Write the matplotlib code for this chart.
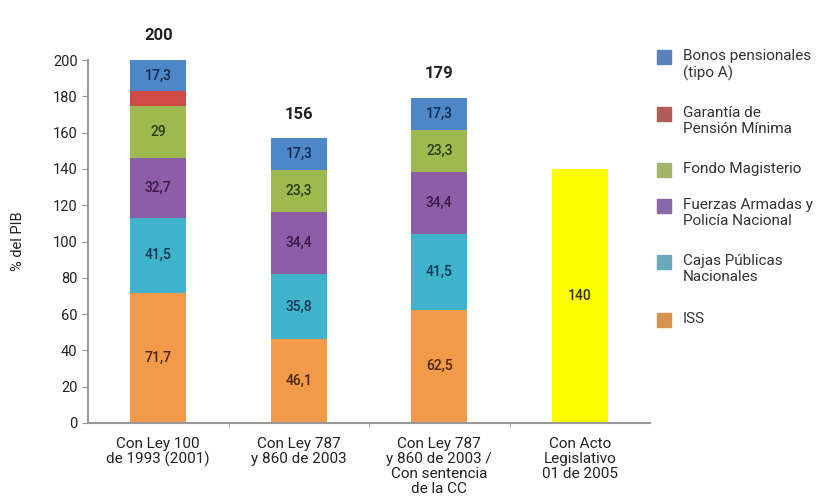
import matplotlib
matplotlib.use("Agg")
import matplotlib.pyplot as plt
from matplotlib.patches import Rectangle
import numpy as np

plt.rcParams['font.family'] = ['Roboto', 'DejaVu Sans']

categories = ["Con Ley 100\nde 1993 (2001)", "Con Ley 787\ny 860 de 2003",
              "Con Ley 787\ny 860 de 2003 /\nCon sentencia\nde la CC",
              "Con Acto\nLegislativo\n01 de 2005"]
series_names = ["ISS", "Cajas Públicas\nNacionales", "Fuerzas Armadas y\nPolicía Nacional",
                "Fondo Magisterio", "Garantía de\nPensión Mínima", "Bonos pensionales\n(tipo A)"]
iss = [71.7, 46.1, 62.5, 0]
cajas = [41.5, 35.8, 41.5, 0]
fuerzas = [32.7, 34.4, 34.4, 0]
fondo = [29.0, 23.3, 23.3, 0]
garantia = [7.8, 0, 0, 0]
bonos = [17.3, 17.3, 17.3, 0]
acto = [0, 0, 0, 140]
totals = ["200", "156", "179", None]
series = [iss, cajas, fuerzas, fondo, garantia, bonos]
show_labels = [True, True, True, True, False, True]

bar_colors = ["#F29A4A", "#3FB3CC", "#8E5DA8", "#9DBA50", "#D04A46", "#4E87C8"]
legend_colors = ["#D6924F", "#6AA8BC", "#8868A8", "#A4B46A", "#B25A55", "#5A80B8"]
text_colors = ["#4a2508", "#0d3550", "#3a1848", "#2c3a0c", "#3a1010", "#12284a"]

fig = plt.figure(figsize=(8.21, 5.03), dpi=100)
ax = fig.add_axes([88/821, 80/503, 562/821, 363/503])

x = np.arange(len(categories))
w = 0.4
bottom = np.zeros(len(categories))
for vals, c, tc, show in zip(series, bar_colors, text_colors, show_labels):
    v = np.array(vals)
    ax.bar(x, v, w, bottom=bottom, color=c, edgecolor='none')
    if show:
        for xi, vi, bi in zip(x, v, bottom):
            if vi > 0:
                ax.text(xi, bi + vi/2, f"{vi:g}".replace('.', ','), ha='center', va='center',
                        fontsize=10, fontweight='medium', color=tc)
    bottom += v
v = np.array(acto)
ax.bar(x, v, w, bottom=bottom, color="#FFFF00", edgecolor='none')
for xi, vi, bi in zip(x, v, bottom):
    if vi > 0:
        ax.text(xi, bi + vi/2, f"{vi:g}", ha='center', va='center', fontsize=10,
                fontweight='medium', color="#333300")
bottom += v

for xi, t, tot in zip(x, totals, bottom):
    if t:
        ax.annotate(t, (xi, tot), xytext=(0, 12), textcoords='offset points',
                    ha='center', va='bottom', fontsize=12, fontweight='bold', color='#222222',
                    annotation_clip=False)

ax.set_xlim(-0.5, 3.5)
ax.set_ylim(0, 200)
ax.set_yticks(np.arange(0, 201, 20))
ax.set_xticks(x)
ax.set_xticklabels(categories, fontsize=11, color='#222222', linespacing=1.1)
ax.set_xticks([0.5, 1.5, 2.5], minor=True)
ax.tick_params(axis='x', which='major', length=0, pad=10)
ax.tick_params(axis='x', which='minor', length=3, color='#aaaaaa')
ax.tick_params(axis='y', length=4, color='#999999', labelsize=10.5, labelcolor='#222222')
for s in ['top', 'right']:
    ax.spines[s].set_visible(False)
for s in ['left', 'bottom']:
    ax.spines[s].set_color('#999999')
    ax.spines[s].set_linewidth(1.5)
ax.set_ylabel("% del PIB", fontsize=10.5, color='#222222', labelpad=20)

# legend (manual)
leg_y = [57, 114, 170, 206, 262, 320]
leg_order = [5, 4, 3, 2, 1, 0]
for yy, idx in zip(leg_y, leg_order):
    fig.patches.append(Rectangle((657/821, 1 - (yy + 7)/503), 14/821, 14/503,
                                 transform=fig.transFigure, color=legend_colors[idx]))
    fig.text(683/821, 1 - (yy - 8)/503, series_names[idx], ha='left', va='top',
             fontsize=11, color='#333333', linespacing=1.2)

fig.savefig("out.png", dpi=100)
